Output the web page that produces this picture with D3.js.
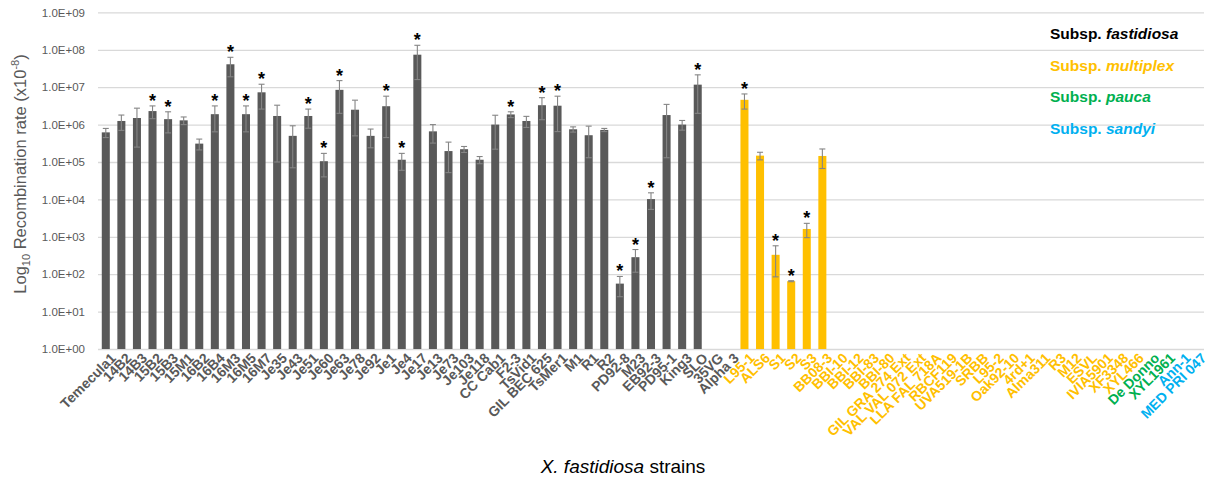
<!DOCTYPE html>
<html>
<head>
<meta charset="utf-8">
<script src="https://cdn.jsdelivr.net/npm/d3@7/dist/d3.min.js"></script>
<style>
  html, body { margin: 0; padding: 0; background: #fff; }
  svg { display: block; font-family: "Liberation Sans", Arial, sans-serif; }
</style>
</head>
<body>
<svg id="chart" width="1216" height="482"></svg>
<script>
// Strain names in plotting order
const strains = [
  "Temecula1", "14B2", "14B3", "15B2", "15B3", "15M1", "16B2", "16B4", "16M3", "16M5",
  "16M7", "Je35", "Je43", "Je51", "Je60", "Je63", "Je78", "Je92", "Je1", "Je4",
  "Je17", "Je13", "Je73", "Je103", "Je118", "CC Cab1", "F2-3", "TsVid1", "GIL BEC 625", "TsMer1",
  "M1", "R1", "R2", "PD92-8", "M23", "EB92-3", "PD95-1", "King3", "SLO", "35VG",
  "Alpha 3",
  "L95-1", "ALS6", "S1", "S2", "S3", "BB08-3", "BBI-10", "BBI-12", "BBI-83", "BBI-80",
  "GIL GRA 274 Ext", "VAL VAL 072 Ext", "LLA FAL 718A", "RBCF119", "UVA519-1B", "SRBB", "L95-2", "Oak92-10", "4rd+1", "Alma311",
  "R3", "M12", "ESVL", "IVIA5901", "XF3348", "XYL466",
  "De Donno", "XYL1961",
  "Ann-1", "MED PRI 047"
];

// Subspecies of each strain
const subspecies = [
  ...Array(41).fill("fastidiosa"),
  ...Array(26).fill("multiplex"),
  "pauca", "pauca",
  "sandyi", "sandyi"
];

// Mean recombination rate (x10^-8); null = not detected
const rates = [
  6.2e5, 1.25e6, 1.5e6, 2.3e6, 1.4e6, 1.3e6, 3.1e5, 1.9e6, 4.1e7, 1.9e6,
  7.3e6, 1.7e6, 5.0e5, 1.7e6, 1.05e5, 8.5e6, 2.5e6, 5.0e5, 3.1e6, 1.15e5,
  7.4e7, 6.6e5, 1.96e5, 2.2e5, 1.15e5, 1.0e6, 1.87e6, 1.25e6, 3.3e6, 3.2e6,
  7.5e5, 5.2e5, 7.2e5, 56, 285, 1.02e4, 1.8e6, 1.0e6, 1.17e7, null,
  null,
  4.6e6, 1.48e5, 330, 65, 1620, 1.45e5, null, null, null, null,
  null, null, null, null, null, null, null, null, null, null,
  null, null, null, null, null, null,
  null, null,
  null, null
];

// Standard deviation of each rate
const errors = [
  1.7e5, 0.55e6, 1.25e6, 0.86e6, 0.8e6, 0.3e6, 1.0e5, 1.26e6, 2.2e7, 1.26e6,
  4.7e6, 1.6e6, 4.3e5, 0.9e6, 0.65e5, 6.5e6, 2.0e6, 2.6e5, 2.65e6, 0.55e5,
  5.8e7, 3.4e5, 1.44e5, 0.4e5, 0.25e5, 0.78e6, 0.33e6, 0.41e6, 1.95e6, 2.55e6,
  1.2e5, 3.9e5, 0.7e5, 31, 172, 0.48e4, 1.67e6, 0.29e6, 0.97e7, null,
  null,
  2.0e6, 0.34e5, 245, 2, 670, 0.78e5, null, null, null, null,
  null, null, null, null, null, null, null, null, null, null,
  null, null, null, null, null, null,
  null, null,
  null, null
];

// Strains marked as significantly different
const significant = [
  "15B2", "15B3", "16B4", "16M3", "16M5", "16M7", "Je51", "Je60", "Je63", "Je1",
  "Je4", "Je17", "F2-3", "GIL BEC 625", "TsMer1", "PD92-8", "M23", "EB92-3", "SLO",
  "L95-1", "S1", "S2", "S3"
];

const yTicks = [1, 10, 1e2, 1e3, 1e4, 1e5, 1e6, 1e7, 1e8, 1e9];

const legendItems = [
  { key: "fastidiosa", name: "fastidiosa", text: "#000000" },
  { key: "multiplex", name: "multiplex", text: "#FFC000" },
  { key: "pauca", name: "pauca", text: "#00B050" },
  { key: "sandyi", name: "sandyi", text: "#00B0F0" }
];

const barColor = { fastidiosa: "#595959", multiplex: "#FFC000", pauca: "#00B050", sandyi: "#00B0F0" };
const labelColor = { fastidiosa: "#595959", multiplex: "#FFC000", pauca: "#00B050", sandyi: "#00B0F0" };

const rows = strains.map((s, i) => ({
  strain: s, sub: subspecies[i], rate: rates[i], err: errors[i], sig: significant.includes(s)
}));

const svg = d3.select("#chart");
const plot = { left: 98, right: 1204, top: 12.4, bottom: 349 };

const x = d3.scaleBand()
  .domain(strains)
  .range([plot.left, plot.right])
  .paddingInner(0.485)
  .paddingOuter(0.2425);

const y = d3.scaleLog()
  .domain([1, 1e9])
  .range([plot.bottom, plot.top]);

// Horizontal gridlines
svg.append("g")
  .attr("transform", `translate(${plot.left},0)`)
  .call(d3.axisLeft(y).tickValues(yTicks).tickSize(-(plot.right - plot.left)).tickFormat(""))
  .call(g => g.select(".domain").remove())
  .call(g => g.selectAll("line").attr("stroke", "#d9d9d9").attr("stroke-width", 1.3));

// Y tick labels
svg.append("g")
  .attr("transform", `translate(${plot.left - 10},0)`)
  .call(d3.axisLeft(y).tickValues(yTicks).tickSize(0)
    .tickFormat(d => "1.0E+" + String(Math.round(Math.log10(d))).padStart(2, "0")))
  .call(g => g.select(".domain").remove())
  .call(g => g.selectAll("text")
    .attr("fill", "#595959")
    .style("font-size", "11.5px")
    .style("font-family", "'Liberation Sans', Arial, sans-serif"));

// Bars
const data = rows.filter(d => d.rate != null);
svg.append("g").selectAll("rect")
  .data(data)
  .join("rect")
  .attr("x", d => x(d.strain))
  .attr("width", x.bandwidth())
  .attr("y", d => y(d.rate))
  .attr("height", d => y(1) - y(d.rate))
  .attr("fill", d => barColor[d.sub]);

// Error bars
const eb = svg.append("g")
  .attr("stroke", "#858585")
  .attr("stroke-width", 1.1);
data.forEach(d => {
  const cx = x(d.strain) + x.bandwidth() / 2;
  const hi = y(d.rate + d.err);
  const lo = y(Math.max(d.rate - d.err, 1));
  eb.append("line").attr("x1", cx).attr("x2", cx).attr("y1", hi).attr("y2", lo);
  eb.append("line").attr("x1", cx - 3).attr("x2", cx + 3).attr("y1", hi).attr("y2", hi);
  eb.append("line").attr("x1", cx - 3).attr("x2", cx + 3).attr("y1", lo).attr("y2", lo);
});

// Significance asterisks
svg.append("g").selectAll("text")
  .data(data.filter(d => d.sig))
  .join("text")
  .attr("x", d => x(d.strain) + x.bandwidth() / 2)
  .attr("y", d => y(d.rate + d.err) + 1)
  .attr("text-anchor", "middle")
  .attr("fill", "#000")
  .style("font-size", "18px")
  .style("font-weight", "bold")
  .text("*");

// X axis category labels
const xAxis = svg.append("g")
  .attr("transform", `translate(0,${plot.bottom})`)
  .call(d3.axisBottom(x).tickSize(0).tickFormat(d => d))
  .call(g => g.select(".domain").remove());
xAxis.selectAll("text")
  .attr("transform", "translate(4,3) rotate(-45)")
  .attr("text-anchor", "end")
  .attr("dy", "0.7em")
  .attr("x", 0).attr("y", 0)
  .style("font-size", "14px")
  .style("font-weight", "bold")
  .style("font-family", "'Liberation Sans', Arial, sans-serif")
  .attr("fill", (d, i) => labelColor[subspecies[i]]);

// Y axis title
const yTitle = svg.append("text")
  .attr("transform", "translate(26,174) rotate(-90)")
  .attr("text-anchor", "middle")
  .attr("fill", "#595959")
  .style("font-size", "16.5px");
yTitle.append("tspan").text("Log");
yTitle.append("tspan").attr("dy", 4).style("font-size", "11px").text("10");
yTitle.append("tspan").attr("dy", -4).text(" Recombination rate (x10");
yTitle.append("tspan").attr("dy", -7).style("font-size", "11px").text("-8");
yTitle.append("tspan").attr("dy", 7).text(")");

// X axis title
const xTitle = svg.append("text")
  .attr("x", 623)
  .attr("y", 473)
  .attr("text-anchor", "middle")
  .attr("fill", "#000")
  .style("font-size", "19px");
xTitle.append("tspan").style("font-style", "italic").text("X. fastidiosa");
xTitle.append("tspan").text(" strains");

// Legend
const legend = svg.append("g").attr("transform", "translate(1050,39)");
legendItems.forEach((item, i) => {
  const t = legend.append("text")
    .attr("x", 0)
    .attr("y", i * 31.7)
    .attr("fill", item.text)
    .style("font-size", "15.5px")
    .style("font-weight", "bold");
  t.append("tspan").text("Subsp. ");
  t.append("tspan").style("font-style", "italic").text(item.name);
});
</script>
</body>
</html>
